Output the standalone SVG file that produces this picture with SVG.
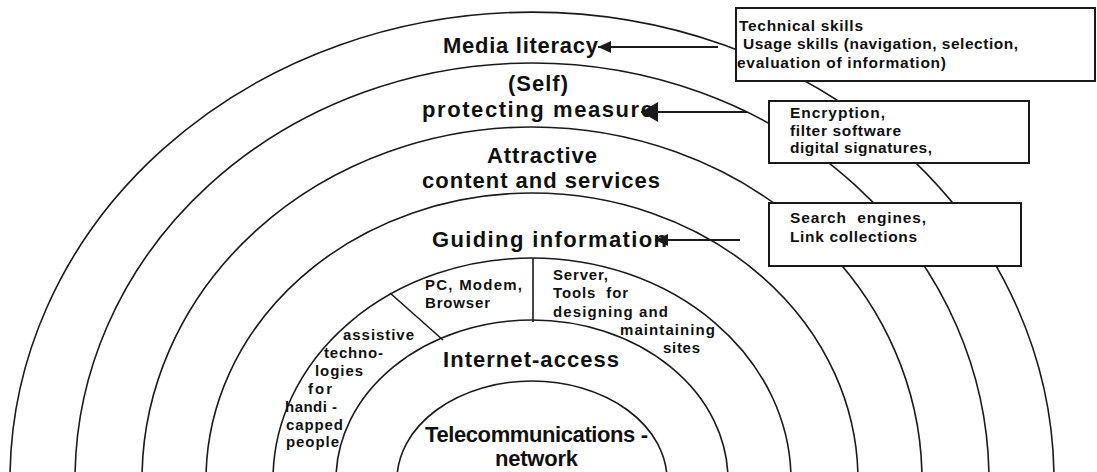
<svg xmlns="http://www.w3.org/2000/svg" width="1097" height="472" viewBox="0 0 1097 472">
<style>
.arc{fill:none;stroke:#1a1a1a;stroke-width:1.6}
.div{fill:none;stroke:#1a1a1a;stroke-width:1.6}
.box{fill:#fff;stroke:#1a1a1a;stroke-width:2}
.conn{fill:none;stroke:#1a1a1a;stroke-width:1.8}
text{font-family:"Liberation Sans",Arial,sans-serif;font-weight:bold;fill:#111}
.big{font-size:22px}
.sm{font-size:15px}
.bx{font-size:15.5px}
</style>
<defs>
<marker id="ah" markerUnits="userSpaceOnUse" markerWidth="14" markerHeight="14" refX="13" refY="6" orient="auto"><path d="M0,0 L13,6 L0,12 Z" fill="#1a1a1a"/></marker>
<marker id="ahBig" markerUnits="userSpaceOnUse" markerWidth="18" markerHeight="22" refX="17" refY="10" orient="auto"><path d="M0,0 L17,10 L0,20 Z" fill="#1a1a1a"/></marker>
</defs>
<rect width="1097" height="472" fill="#fff"/>
<g id="rings">
<path class="arc" d="M10,480 A522,468 0 0 1 1054,480"/>
<path class="arc" d="M75,480 A457,417 0 0 1 989,480"/>
<path class="arc" d="M142,480 A390,353 0 0 1 922,480"/>
<path class="arc" d="M206,480 A326,287 0 0 1 858,480"/>
<path class="arc" d="M273,480 A259,222 0 0 1 791,480"/>
<path class="arc" d="M336,480 A196,160 0 0 1 728,480"/>
<path class="arc" d="M397,480 A135,99 0 0 1 667,480"/>
<line class="div" x1="533" y1="258" x2="533" y2="322"/>
<line class="div" x1="390" y1="293" x2="443" y2="340"/>
</g>
<g id="media-literacy"><text class="big" x="443" y="53" textLength="155" lengthAdjust="spacing">Media literacy</text></g>
<g id="protecting"><text class="big" x="508" y="91" textLength="60" lengthAdjust="spacing">(Self)</text><text class="big" x="422" y="117" textLength="231" lengthAdjust="spacing">protecting measure</text></g>
<g id="content"><text class="big" x="487" y="163" textLength="110" lengthAdjust="spacing">Attractive</text><text class="big" x="422" y="188" textLength="238" lengthAdjust="spacing">content and services</text></g>
<g id="guiding"><text class="big" x="432" y="247" textLength="235" lengthAdjust="spacing">Guiding information</text></g>
<g id="pc"><text class="sm" x="425" y="290" textLength="97" lengthAdjust="spacing">PC, Modem,</text><text class="sm" x="425" y="308" textLength="65" lengthAdjust="spacing">Browser</text></g>
<g id="server"><text class="sm" x="553" y="280" textLength="55" lengthAdjust="spacing">Server,</text><text class="sm" x="553" y="298" textLength="75" lengthAdjust="spacing" xml:space="preserve">Tools  for</text><text class="sm" x="553" y="317" textLength="115" lengthAdjust="spacing">designing and</text><text class="sm" x="620" y="335" textLength="95" lengthAdjust="spacing">maintaining</text><text class="sm" x="663" y="353" textLength="37" lengthAdjust="spacing">sites</text></g>
<g id="assistive"><text class="sm" x="343" y="340" textLength="71" lengthAdjust="spacing">assistive</text><text class="sm" x="324" y="358" textLength="59" lengthAdjust="spacing">techno-</text><text class="sm" x="315" y="376" textLength="48" lengthAdjust="spacing">logies</text><text class="sm" x="308" y="394" textLength="24" lengthAdjust="spacing">for</text><text class="sm" x="285" y="412" textLength="52" lengthAdjust="spacing" xml:space="preserve">handi -</text><text class="sm" x="286" y="430" textLength="57" lengthAdjust="spacing">capped</text><text class="sm" x="286" y="447" textLength="53" lengthAdjust="spacing">people</text></g>
<g id="internet"><text class="big" x="443" y="367" textLength="176" lengthAdjust="spacing">Internet-access</text></g>
<g id="telecom"><text class="big" x="425" y="442" textLength="223" lengthAdjust="spacing" xml:space="preserve">Telecommunications -</text><text class="big" x="495" y="466" textLength="83" lengthAdjust="spacing">network</text></g>
<g id="box-skills"><rect class="box" x="736" y="8" width="359" height="73"/><text class="bx" x="739" y="31" textLength="124" lengthAdjust="spacing">Technical skills</text><text class="bx" x="743" y="49" textLength="275" lengthAdjust="spacing">Usage skills (navigation, selection,</text><text class="bx" x="737" y="68" textLength="209" lengthAdjust="spacing">evaluation of information)</text></g>
<g id="box-encryption"><rect class="box" x="769" y="101" width="260" height="62"/><text class="bx" x="790" y="118" textLength="95" lengthAdjust="spacing">Encryption,</text><text class="bx" x="790" y="136" textLength="111" lengthAdjust="spacing">filter software</text><text class="bx" x="790" y="153" textLength="142" lengthAdjust="spacing">digital signatures,</text></g>
<g id="box-search"><rect class="box" x="769" y="203" width="252" height="63"/><text class="bx" x="790" y="223" textLength="136" lengthAdjust="spacing" xml:space="preserve">Search  engines,</text><text class="bx" x="790" y="242" textLength="127" lengthAdjust="spacing">Link collections</text></g>
<g id="connectors">
<line class="conn" x1="718" y1="47" x2="598" y2="47" marker-end="url(#ah)"/>
<line class="conn" x1="747" y1="112" x2="641" y2="112" marker-end="url(#ahBig)"/>
<line class="conn" x1="740" y1="240" x2="655" y2="240" marker-end="url(#ah)"/>
</g>
</svg>
